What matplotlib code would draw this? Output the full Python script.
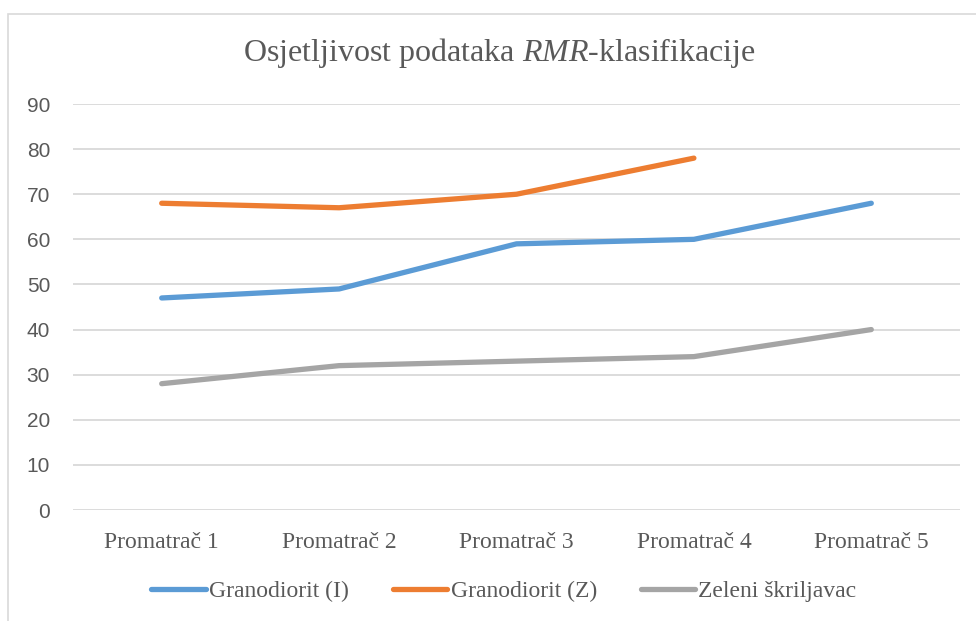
import matplotlib
matplotlib.use("Agg")
import matplotlib.pyplot as plt
from matplotlib.patches import Rectangle
import numpy as np

categories = ["Promatrač 1", "Promatrač 2", "Promatrač 3", "Promatrač 4", "Promatrač 5"]
granodiorit_i = [47, 49, 59, 60, 68]
granodiorit_z = [68, 67, 70, 78, np.nan]
zeleni = [28, 32, 33, 34, 40]
series_names = ["Granodiorit (I)", "Granodiorit (Z)", "Zeleni škriljavac"]
colors = ["#5B9BD5", "#ED7D31", "#A5A5A5"]
yticks = [0, 10, 20, 30, 40, 50, 60, 70, 80, 90]

plt.rcParams["mathtext.fontset"] = "custom"
plt.rcParams["mathtext.rm"] = "Liberation Serif"
plt.rcParams["mathtext.it"] = "Liberation Serif:italic"

W, H = 976, 621
fig = plt.figure(figsize=(W / 100, H / 100), dpi=100)
fig.patch.set_facecolor("white")

# chart border
fig.patches.append(Rectangle((8 / W, -0.1), 1.2, 1 - 14 / H + 0.1, transform=fig.transFigure,
                             fill=False, edgecolor="#D9D9D9", linewidth=1.2, zorder=0))

ax = fig.add_axes([73 / W, 1 - 510 / H, (960 - 73) / W, (510 - 104) / H])
x = np.arange(len(categories))
for vals, name, c in zip([granodiorit_i, granodiorit_z, zeleni], series_names, colors):
    ax.plot(x, vals, color=c, linewidth=3.8, solid_capstyle="round", solid_joinstyle="round",
            label=name, zorder=3)

ax.set_xlim(-0.5, len(categories) - 0.5)
ax.set_ylim(0, 90)
ax.set_yticks(yticks)
ax.set_yticklabels([str(v) for v in yticks], fontfamily="Liberation Sans", fontsize=15, color="#595959")
ax.set_xticks(x)
ax.set_xticklabels(categories, fontfamily="Liberation Serif", fontsize=17, color="#595959")
ax.tick_params(axis="both", length=0)
ax.tick_params(axis="y", pad=16.5)
ax.tick_params(axis="x", pad=15.5)
for s in ax.spines.values():
    s.set_visible(False)
ax.grid(axis="y", color="#D9D9D9", linewidth=1.3, zorder=0)
ax.set_axisbelow(True)

fig.text(499 / W, 1 - 53 / H, "Osjetljivost podataka $\\mathit{RMR}$-klasifikacije",
         ha="center", va="center", fontfamily="Liberation Serif", fontsize=23, color="#595959")

handles, labels = ax.get_legend_handles_labels()
leg = fig.legend(handles, labels, loc="center", bbox_to_anchor=(504 / W, 1 - 591 / H), ncol=3,
                 frameon=False, handlelength=2.3, handletextpad=0.15, columnspacing=1.85,
                 prop={"family": "Liberation Serif", "size": 17})
for t in leg.get_texts():
    t.set_color("#595959")

fig.savefig("out.png", dpi=100)
